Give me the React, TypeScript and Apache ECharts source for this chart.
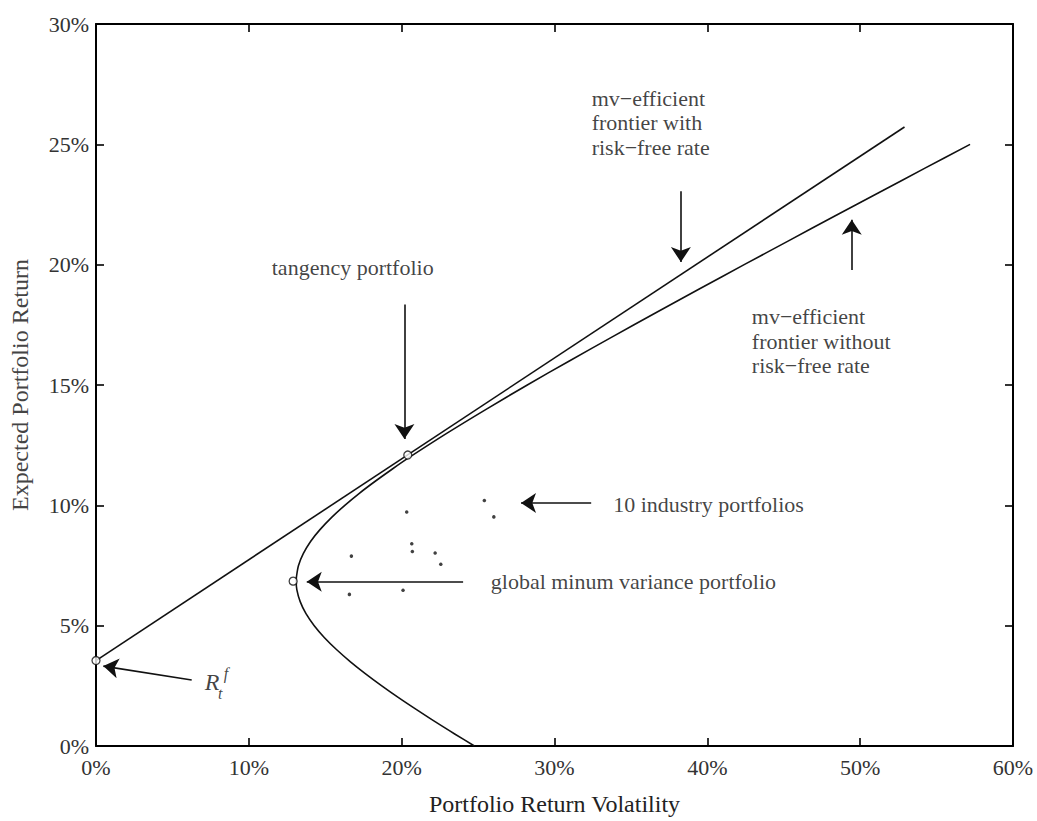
import React, { useEffect, useRef } from 'react';
import * as echarts from 'echarts';

// Efficient frontier (without risk-free rate)
const frontierReturn = [0, 0.5, 1, 1.5, 2, 2.5, 3, 3.5, 4, 4.5, 5, 5.5, 6, 6.5, 6.85, 7, 7.5, 8, 8.5, 9, 9.5, 10, 10.5, 11, 11.5, 12, 13, 14, 15, 16, 17, 18, 19, 20, 21, 22, 23, 24, 25];
const frontierVolatility = [24.76, 23.47, 22.21, 21.0, 19.82, 18.7, 17.64, 16.65, 15.75, 14.95, 14.28, 13.74, 13.36, 13.14, 13.1, 13.11, 13.25, 13.57, 14.04, 14.67, 15.42, 16.28, 17.23, 18.27, 19.37, 20.52, 22.97, 25.55, 28.22, 30.97, 33.78, 36.63, 39.5, 42.41, 45.34, 48.28, 51.24, 54.21, 57.19];

// Efficient frontier with risk-free rate (capital market line)
const cmlVolatility = [0, 52.9];
const cmlReturn = [3.55, 25.72];

// 10 industry portfolios
const industryVolatility = [25.41, 26.03, 20.33, 20.66, 20.7, 16.71, 22.19, 22.56, 16.58, 20.09];
const industryReturn = [10.2, 9.52, 9.72, 8.4, 8.08, 7.89, 8.02, 7.55, 6.3, 6.47];

// Key portfolios: risk-free, tangency, global minimum variance
const keyVolatility = [0, 20.4, 12.9];
const keyReturn = [3.55, 12.09, 6.85];

// Axis ticks
const xTicks = [0, 10, 20, 30, 40, 50, 60];
const yTicks = [0, 5, 10, 15, 20, 25, 30];

// Annotation arrows: [fromVol, fromRet, toVol, toRet]
const arrows: number[][] = [
  [6.26, 2.74, 0.48, 3.32],
  [20.18, 18.35, 20.18, 12.76],
  [24.02, 6.82, 13.79, 6.82],
  [32.4, 10.1, 27.81, 10.1],
  [38.27, 23.05, 38.27, 20.11],
  [49.45, 19.78, 49.45, 21.87],
];

// Annotation texts
const notes = [
  { text: 'tangency portfolio', vol: 11.5, ret: 19.89 },
  { text: 'mv\u2212efficient\nfrontier with\nrisk\u2212free rate', vol: 32.43, ret: 25.9 },
  { text: 'mv\u2212efficient\nfrontier without\nrisk\u2212free rate', vol: 42.91, ret: 16.82 },
  { text: '10 industry portfolios', vol: 33.84, ret: 10.05 },
  { text: 'global minum variance portfolio', vol: 25.83, ret: 6.82 },
];

const SERIF = '"Liberation Serif", "Times New Roman", serif';
const INK = '#111111';

export default function App() {
  const ref = useRef<HTMLDivElement>(null);

  useEffect(() => {
    if (!ref.current) return;
    const chart = echarts.init(ref.current, undefined, { renderer: 'svg' });

    const axisCommon = {
      type: 'value' as const,
      axisLine: { show: true, onZero: false, lineStyle: { color: '#000', width: 2 } },
      axisTick: { show: true, inside: true, length: 8, lineStyle: { color: '#000', width: 1.6 } },
      splitLine: { show: false },
    };

    const noteData = notes.map((n) => ({
      value: [n.vol, n.ret],
      label: {
        show: true,
        formatter: n.text,
        position: 'inside',
        align: 'left',
        verticalAlign: 'middle',
        fontFamily: SERIF,
        fontSize: 22,
        lineHeight: 24.5,
        color: INK,
      },
    }));

    const rfLabel = [
      { value: [7.59, 2.68], text: 'R', size: 24 },
      { value: [8.5, 3.0], text: 'f', size: 16 },
      { value: [8.12, 2.18], text: 't', size: 16 },
    ].map((r) => ({
      value: r.value,
      label: {
        show: true,
        formatter: r.text,
        position: 'inside',
        align: 'center',
        verticalAlign: 'middle',
        fontFamily: SERIF,
        fontStyle: 'italic',
        fontSize: r.size,
        color: INK,
      },
    }));

    const xBase = {
      ...axisCommon,
      interval: 10,
      min: xTicks[0],
      max: xTicks[xTicks.length - 1],
    };
    const yBase = {
      ...axisCommon,
      interval: 5,
      min: yTicks[0],
      max: yTicks[yTicks.length - 1],
    };

    const option: any = {
      animation: false,
      backgroundColor: '#ffffff',
      grid: { left: 96, right: 24, top: 24, bottom: 73, containLabel: false },
      xAxis: [
        {
          ...xBase,
          position: 'bottom',
          name: 'Portfolio Return Volatility',
          nameLocation: 'middle',
          nameGap: 46,
          nameTextStyle: { fontFamily: SERIF, fontSize: 24, color: '#222' },
          axisLabel: {
            show: true,
            formatter: '{value}%',
            fontFamily: SERIF,
            fontSize: 22,
            color: '#333',
            margin: 10,
          },
        },
        {
          ...xBase,
          position: 'top',
          axisLabel: { show: false },
        },
      ],
      yAxis: [
        {
          ...yBase,
          position: 'left',
          name: 'Expected Portfolio Return',
          nameLocation: 'middle',
          nameGap: 64,
          nameTextStyle: { fontFamily: SERIF, fontSize: 24, color: '#444' },
          axisLabel: {
            show: true,
            formatter: '{value}%',
            fontFamily: SERIF,
            fontSize: 22,
            color: '#333',
            margin: 7,
          },
        },
        {
          ...yBase,
          position: 'right',
          axisLabel: { show: false },
        },
      ],
      series: [
        {
          name: 'mv-efficient frontier without risk-free rate',
          type: 'line',
          data: frontierVolatility.map((v, i) => [v, frontierReturn[i]]),
          showSymbol: false,
          symbol: 'none',
          smooth: 0.3,
          lineStyle: { color: INK, width: 1.6 },
          z: 3,
        },
        {
          name: 'mv-efficient frontier with risk-free rate',
          type: 'line',
          data: cmlVolatility.map((v, i) => [v, cmlReturn[i]]),
          showSymbol: false,
          symbol: 'none',
          lineStyle: { color: INK, width: 1.6 },
          z: 3,
        },
        {
          name: '10 industry portfolios',
          type: 'scatter',
          data: industryVolatility.map((v, i) => [v, industryReturn[i]]),
          symbol: 'circle',
          symbolSize: 3.5,
          itemStyle: { color: INK },
          z: 4,
        },
        {
          name: 'key portfolios',
          type: 'scatter',
          data: keyVolatility.map((v, i) => [v, keyReturn[i]]),
          symbol: 'circle',
          symbolSize: 8,
          itemStyle: { color: '#ffffff', borderColor: INK, borderWidth: 1.3 },
          z: 6,
        },
        {
          name: 'arrows',
          type: 'lines',
          coordinateSystem: 'cartesian2d',
          data: arrows.map((a) => ({ coords: [[a[0], a[1]], [a[2], a[3]]] })),
          symbol: ['none', 'arrow'],
          symbolSize: [9, 15],
          lineStyle: { color: INK, width: 1.6, opacity: 1 },
          itemStyle: { color: INK },
          z: 5,
        },
        {
          name: 'notes',
          type: 'scatter',
          data: [...noteData, ...rfLabel],
          symbol: 'circle',
          symbolSize: 0,
          silent: true,
          z: 7,
        },
      ],
    };

    chart.setOption(option);
    return () => chart.dispose();
  }, []);

  return (
    <div
      ref={ref}
      style={{ position: 'fixed', left: 0, top: 0, width: 1037, height: 821, background: '#fff' }}
    />
  );
}
